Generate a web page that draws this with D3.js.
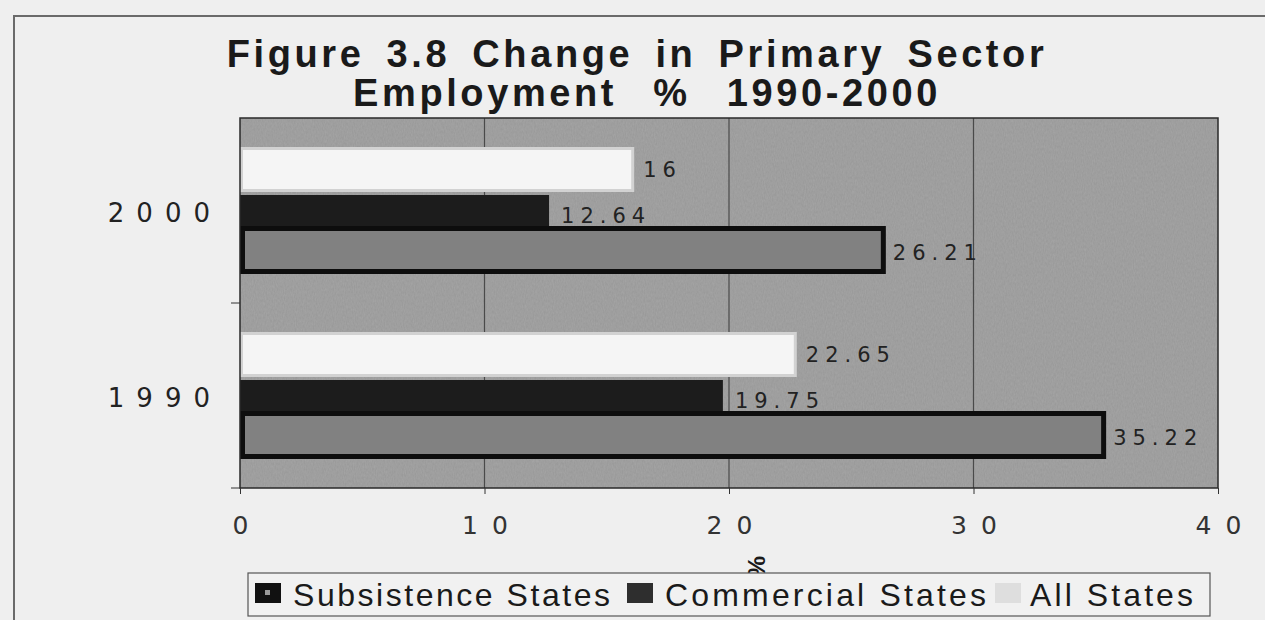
<!DOCTYPE html>
<html>
<head>
<meta charset="utf-8">
<script src="https://cdn.jsdelivr.net/npm/d3@7/dist/d3.min.js"></script>
<style>
  html, body { margin: 0; padding: 0; background: #efefef; }
  svg { display: block; }
</style>
</head>
<body>
<div id="chart"></div>
<script>
// Données
const years = ['2000', '1990'];
const seriesNames = ['All States', 'Subsistence States', 'Commercial States'];
const allStates = [16, 22.65];
const subsistence = [12.64, 19.75];
const commercial = [26.21, 35.22];
const xTicks = [0, 10, 20, 30, 40];
const legendOrder = ['Subsistence States', 'Commercial States', 'All States'];

const width = 1265;
const height = 620;
const plot = { left: 240, right: 1218, top: 118, bottom: 488 };

const svg = d3.select('#chart')
    .append('svg')
    .attr('width', width)
    .attr('height', height);

// Texture grise du fond (scan)
const defs = svg.append('defs');
const grain = defs.append('filter').attr('id', 'grain')
    .attr('x', 0).attr('y', 0).attr('width', 1).attr('height', 1);
grain.append('feTurbulence')
    .attr('type', 'fractalNoise')
    .attr('baseFrequency', '0.9 0.35')
    .attr('numOctaves', 2)
    .attr('seed', 3)
    .attr('result', 'noise');
grain.append('feColorMatrix')
    .attr('in', 'noise')
    .attr('type', 'matrix')
    .attr('values', '0 0 0 0 0  0 0 0 0 0  0 0 0 0 0  0 0 0 0.18 0')
    .attr('result', 'dots');
grain.append('feComposite')
    .attr('in', 'dots').attr('in2', 'SourceGraphic').attr('operator', 'in')
    .attr('result', 'dotsIn');
grain.append('feMerge').call(m => {
    m.append('feMergeNode').attr('in', 'SourceGraphic');
    m.append('feMergeNode').attr('in', 'dotsIn');
});

// Cadre de la page scannée
svg.append('rect').attr('width', width).attr('height', height).attr('fill', '#efefef');
svg.append('path')
    .attr('d', `M14,${height} L14,16 L${width},16`)
    .attr('fill', 'none')
    .attr('stroke', '#6a6a6a')
    .attr('stroke-width', 2);

// Titre
const title = svg.append('text')
    .attr('text-anchor', 'middle')
    .attr('font-family', 'Liberation Sans, Arial, sans-serif')
    .attr('font-weight', 'bold')
    .attr('font-size', 38)
    .attr('letter-spacing', 3.6)
    .attr('fill', '#1a1a1a');
title.append('tspan').attr('x', 637).attr('y', 67)
    .attr('word-spacing', 8)
    .text('Figure 3.8 Change in Primary Sector');
title.append('tspan').attr('x', 647).attr('y', 106)
    .attr('word-spacing', 22)
    .text('Employment % 1990-2000');

// Échelles
const x = d3.scaleLinear().domain([0, 40]).range([plot.left, plot.right]);
const y0 = d3.scaleBand().domain(years).range([plot.top, plot.bottom]).padding(0);
const y1 = d3.scaleBand().domain(seriesNames).range([29, 155]).padding(0);

const seriesValues = {
    'All States': allStates,
    'Subsistence States': subsistence,
    'Commercial States': commercial
};

// Fond du graphique
svg.append('rect')
    .attr('x', plot.left).attr('y', plot.top)
    .attr('width', plot.right - plot.left)
    .attr('height', plot.bottom - plot.top)
    .attr('fill', '#a6a6a6')
    .attr('filter', 'url(#grain)');

// Grille verticale
svg.append('g')
    .selectAll('line')
    .data(xTicks.slice(1, -1))
    .enter()
    .append('line')
    .attr('x1', d => x(d)).attr('x2', d => x(d))
    .attr('y1', plot.top).attr('y2', plot.bottom)
    .attr('stroke', '#4a4a4a')
    .attr('stroke-width', 1.2);

// Barres (chevauchement comme dans l'original)
const barStyle = {
    'All States': { fill: '#f5f5f5', stroke: '#d2d2d2', sw: 3, dy: 0, dh: 3 },
    'Subsistence States': { fill: '#1c1c1c', stroke: 'none', sw: 0, dy: 6, dh: 0 },
    'Commercial States': { fill: '#818181', stroke: '#0d0d0d', sw: 5, dy: -5, dh: 6 }
};

seriesNames.forEach(name => {
    const vals = seriesValues[name];
    const st = barStyle[name];
    svg.append('g')
        .selectAll('rect')
        .data(years.map((yr, i) => ({ year: yr, value: vals[i] })))
        .enter()
        .append('rect')
        .attr('x', x(0) + st.sw / 2)
        .attr('y', d => y0(d.year) + y1(name) + st.dy + st.sw / 2)
        .attr('width', d => x(d.value) - x(0))
        .attr('height', y1.bandwidth() + st.dh - st.sw)
        .attr('fill', st.fill)
        .attr('stroke', st.stroke)
        .attr('stroke-width', st.sw);
});

// Étiquettes de valeurs
seriesNames.forEach(name => {
    const vals = seriesValues[name];
    const st = barStyle[name];
    svg.append('g')
        .selectAll('text')
        .data(years.map((yr, i) => ({ year: yr, value: vals[i] })))
        .enter()
        .append('text')
        .attr('x', d => x(d.value) + 12)
        .attr('y', d => y0(d.year) + y1(name) + st.dy + (y1.bandwidth() + st.dh) / 2 + (st.sw > 4 ? 4 : 1))
        .attr('dominant-baseline', 'middle')
        .attr('font-family', 'DejaVu Sans, sans-serif')
        .attr('font-size', 21)
        .attr('letter-spacing', 6)
        .attr('fill', '#222')
        .text(d => String(d.value));
});

// Bordure du graphique
svg.append('rect')
    .attr('x', plot.left).attr('y', plot.top)
    .attr('width', plot.right - plot.left)
    .attr('height', plot.bottom - plot.top)
    .attr('fill', 'none')
    .attr('stroke', '#2a2a2a')
    .attr('stroke-width', 1.5);

// Axe X
const xAxis = svg.append('g')
    .attr('transform', `translate(0,${plot.bottom})`)
    .call(d3.axisBottom(x).tickValues(xTicks).tickSize(6).tickPadding(22));
xAxis.select('.domain').remove();
xAxis.selectAll('line').attr('stroke', '#333');
xAxis.selectAll('text')
    .attr('font-family', 'DejaVu Sans, sans-serif')
    .attr('font-size', 25)
    .attr('letter-spacing', 14)
    .attr('dx', 7)
    .attr('fill', '#333');

// Axe Y
const yAxis = svg.append('g')
    .attr('transform', `translate(${plot.left},0)`)
    .call(d3.axisLeft(y0).tickSize(0).tickPadding(18));
yAxis.select('.domain').remove();
yAxis.selectAll('text')
    .attr('font-family', 'DejaVu Sans, sans-serif')
    .attr('font-size', 26)
    .attr('letter-spacing', 12)
    .attr('dy', '0.45em')
    .attr('fill', '#222');
svg.append('g')
    .selectAll('line')
    .data([y0('1990'), plot.bottom])
    .enter()
    .append('line')
    .attr('x1', plot.left - 9).attr('x2', plot.left)
    .attr('y1', d => d).attr('y2', d => d)
    .attr('stroke', '#333');

// Titre de l'axe X (à moitié caché par la légende)
svg.append('text')
    .attr('transform', 'translate(748,556) rotate(90)')
    .attr('font-family', 'Liberation Sans, Arial, sans-serif')
    .attr('font-weight', 'bold')
    .attr('font-size', 24)
    .attr('fill', '#1a1a1a')
    .text('%');

// Légende
const legend = svg.append('g');
legend.append('rect')
    .attr('x', 248).attr('y', 573)
    .attr('width', 962).attr('height', 43)
    .attr('fill', '#f1f1f1')
    .attr('stroke', '#555')
    .attr('stroke-width', 1.2);

const legendX = [255, 627, 995];
const legendTextLen = [317, 321, 163];
const legendFill = {
    'Subsistence States': '#111',
    'Commercial States': '#2e2e2e',
    'All States': '#dedede'
};
legendOrder.forEach((name, i) => {
    legend.append('rect')
        .attr('x', legendX[i]).attr('y', 583)
        .attr('width', 26).attr('height', 20)
        .attr('fill', legendFill[name]);
    if (name === 'Subsistence States') {
        legend.append('rect')
            .attr('x', legendX[i] + 10).attr('y', 590)
            .attr('width', 5).attr('height', 5)
            .attr('fill', '#9a9a9a');
    }
    legend.append('text')
        .attr('x', legendX[i] + (i === 2 ? 35 : 38))
        .attr('y', 606)
        .attr('font-family', 'Liberation Sans, Arial, sans-serif')
        .attr('font-size', 32)
        .attr('textLength', legendTextLen[i])
        .attr('lengthAdjust', 'spacing')
        .attr('fill', '#1a1a1a')
        .text(name);
});
</script>
</body>
</html>
